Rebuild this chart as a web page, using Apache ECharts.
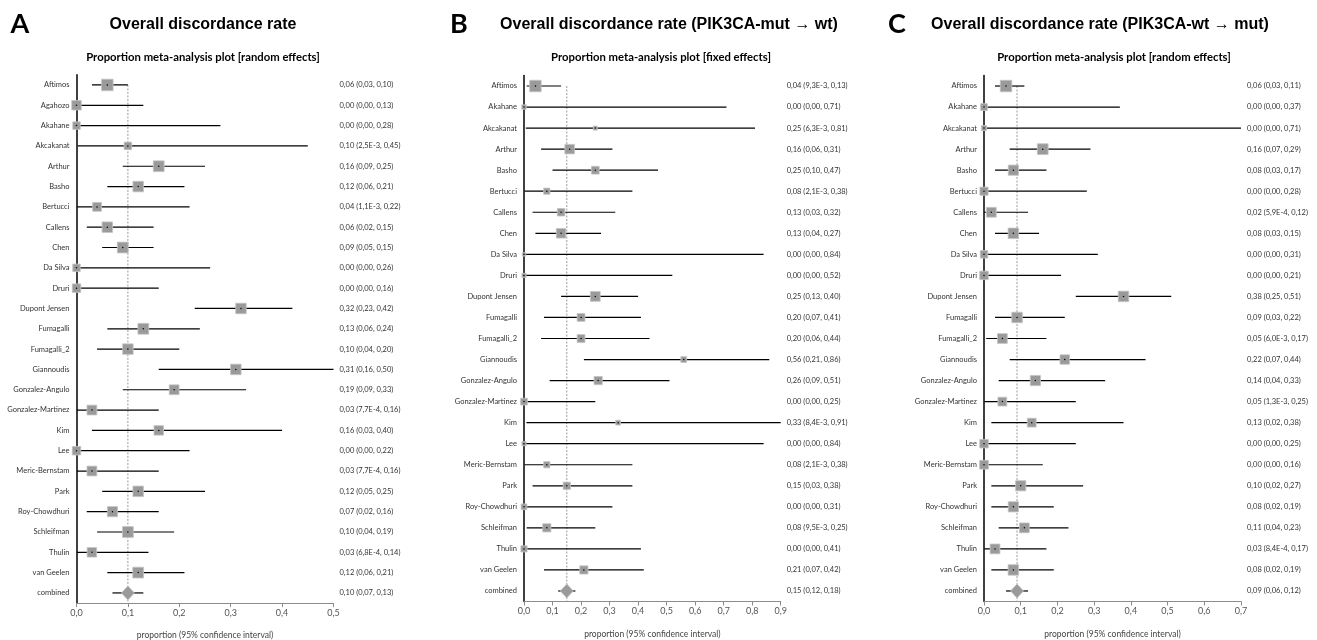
<!DOCTYPE html>
<html>
<head>
<meta charset="utf-8">
<script src="https://cdn.jsdelivr.net/npm/echarts@6/dist/echarts.min.js"></script>
<style>
html,body{margin:0;padding:0;background:#fff;}
#chart{width:1317px;height:640px;}
</style>
</head>
<body>
<div id="chart"></div>
<script>
// ---------- DATA ----------
const studiesA = ['Aftimos','Agahozo','Akahane','Akcakanat','Arthur','Basho','Bertucci','Callens','Chen','Da Silva','Druri','Dupont Jensen','Fumagalli','Fumagalli_2','Giannoudis','Gonzalez-Angulo','Gonzalez-Martinez','Kim','Lee','Meric-Bernstam','Park','Roy-Chowdhuri','Schleifman','Thulin','van Geelen','combined'];
const estA = [0.06,0,0,0.10,0.16,0.12,0.04,0.06,0.09,0,0,0.32,0.13,0.10,0.31,0.19,0.03,0.16,0,0.03,0.12,0.07,0.10,0.03,0.12,0.10];
const loA  = [0.03,0,0,0.0025,0.09,0.06,0.0011,0.02,0.05,0,0,0.23,0.06,0.04,0.16,0.09,0.00077,0.03,0,0.00077,0.05,0.02,0.04,0.00068,0.06,0.07];
const hiA  = [0.10,0.13,0.28,0.45,0.25,0.21,0.22,0.15,0.15,0.26,0.16,0.42,0.24,0.20,0.50,0.33,0.16,0.40,0.22,0.16,0.25,0.16,0.19,0.14,0.21,0.13];
const weightA = [11,9,7,7,10.3,10,8.3,10,10.3,7,8,10,10.3,10,10,9.3,9.3,9,8,9.3,10,9.7,10.3,9,10.3];

const studiesB = ['Aftimos','Akahane','Akcakanat','Arthur','Basho','Bertucci','Callens','Chen','Da Silva','Druri','Dupont Jensen','Fumagalli','Fumagalli_2','Giannoudis','Gonzalez-Angulo','Gonzalez-Martinez','Kim','Lee','Meric-Bernstam','Park','Roy-Chowdhuri','Schleifman','Thulin','van Geelen','combined'];
const estB = [0.04,0,0.25,0.16,0.25,0.08,0.13,0.13,0,0,0.25,0.20,0.20,0.56,0.26,0,0.33,0,0.08,0.15,0,0.08,0,0.21,0.15];
const loB  = [0.0093,0,0.0063,0.06,0.10,0.0021,0.03,0.04,0,0,0.13,0.07,0.06,0.21,0.09,0,0.0084,0,0.0021,0.03,0,0.0095,0,0.07,0.12];
const hiB  = [0.13,0.71,0.81,0.31,0.47,0.38,0.32,0.27,0.84,0.52,0.40,0.41,0.44,0.86,0.51,0.25,0.91,0.84,0.38,0.38,0.31,0.25,0.41,0.42,0.18];
const weightB = [11,4,3.5,9,7.3,5.7,7,9,3,3.7,9.3,7.3,7.3,5.3,7.7,6.3,4.3,3.7,5.7,6.7,5.3,7.7,5.7,7.7];

const studiesC = ['Aftimos','Akahane','Akcakanat','Arthur','Basho','Bertucci','Callens','Chen','Da Silva','Druri','Dupont Jensen','Fumagalli','Fumagalli_2','Giannoudis','Gonzalez-Angulo','Gonzalez-Martinez','Kim','Lee','Meric-Bernstam','Park','Roy-Chowdhuri','Schleifman','Thulin','van Geelen','combined'];
const estC = [0.06,0,0,0.16,0.08,0,0.02,0.08,0,0,0.38,0.09,0.05,0.22,0.14,0.05,0.13,0,0,0.10,0.08,0.11,0.03,0.08,0.09];
const loC  = [0.03,0,0,0.07,0.03,0,0.00059,0.03,0,0,0.25,0.03,0.006,0.07,0.04,0.0013,0.02,0,0,0.02,0.02,0.04,0.00084,0.02,0.06];
const hiC  = [0.11,0.37,0.71,0.29,0.17,0.28,0.12,0.15,0.31,0.21,0.51,0.22,0.17,0.44,0.33,0.25,0.38,0.25,0.16,0.27,0.19,0.23,0.17,0.19,0.12];
const weightC = [11,6.3,4.7,10.3,9.7,7.7,9.3,10,7,8,10,10,9.3,9,9.7,8.3,8.3,8,8.3,9.7,9.7,9.3,9.3,10];

const axisMax = [0.5, 0.9, 0.7];
const panelLetters = ['A','B','C'];
const panelTitles = ['Overall discordance rate','Overall discordance rate (PIK3CA-mut \u2192 wt)','Overall discordance rate (PIK3CA-wt \u2192 mut)'];
const panelSubtitles = ['Proportion meta-analysis plot [random effects]','Proportion meta-analysis plot [fixed effects]','Proportion meta-analysis plot [random effects]'];
const xAxisName = 'proportion (95% confidence interval)';

// ---------- LAYOUT ----------
const grids = [
  {left:76.5, top:74.8, width:257, height:528.3},
  {left:524, top:75.5, width:256.7, height:526},
  {left:984, top:75.5, width:257, height:526}
];
const letterPos = [[20,24],[459,24],[897,24]];
const titlePos = [[203,25],[669,25],[1100,25]];
const subPos = [[203,57],[661,57],[1114,57]];

function fmt(v){
  if (v === 0) return '0,00';
  if (v < 0.01) {
    const s = v.toExponential(1);
    const parts = s.split('e');
    return parts[0].replace('.', ',') + 'E' + parts[1];
  }
  return v.toFixed(2).replace('.', ',');
}

const panels = [
  {studies:studiesA, est:estA, lo:loA, hi:hiA, w:weightA},
  {studies:studiesB, est:estB, lo:loB, hi:hiB, w:weightB},
  {studies:studiesC, est:estC, lo:loC, hi:hiC, w:weightC}
];

const FONT = 'Lato';
const grid = [], xAxis = [], yAxis = [], series = [], graphic = [];

panels.forEach((p, i) => {
  const n = p.studies.length;
  grid.push(Object.assign({containLabel:false, outerBoundsMode:'none'}, grids[i]));
  xAxis.push({
    type:'value', gridIndex:i, min:0, max:axisMax[i], interval:0.1,
    splitLine:{show:false},
    axisLine:{show:true, lineStyle:{color:'#8c8c8c', width:1}},
    axisTick:{show:true, length:4, lineStyle:{color:'#8c8c8c'}},
    axisLabel:{fontFamily:FONT, fontSize:9, color:'#555', margin:5,
      formatter: v => v.toFixed(1).replace('.', ',')},
    name:xAxisName, nameLocation:'middle', nameGap:28,
    nameTextStyle:{fontFamily:FONT, fontSize:8.5, color:'#444'}
  });
  yAxis.push({
    type:'category', gridIndex:i, data:p.studies, inverse:true,
    axisLine:{show:true, onZero:false, lineStyle:{color:'#000', width:1.5}},
    axisTick:{show:false},
    axisLabel:{fontFamily:FONT, fontSize:7.5, color:'#333', margin:7}
  });
  const rightLabels = p.studies.map((s, k) => fmt(p.est[k]) + ' (' + fmt(p.lo[k]) + ', ' + fmt(p.hi[k]) + ')');
  yAxis.push({
    type:'category', gridIndex:i, data:rightLabels, inverse:true, position:'right',
    axisLine:{show:false}, axisTick:{show:false},
    axisLabel:{fontFamily:FONT, fontSize:7.5, color:'#333', margin:6}
  });
  const yi = i*2;

  series.push({
    type:'custom', xAxisIndex:i, yAxisIndex:yi, z:1, silent:true,
    data:[[p.est[n-1], 0]],
    encode:{x:0, y:1},
    renderItem:(params, api) => {
      const top = api.coord([api.value(0), api.value(1)]);
      const cs = params.coordSys;
      return {type:'line', shape:{x1:top[0], y1:top[1], x2:top[0], y2:cs.y+cs.height},
        style:{stroke:'#9a9a9a', lineWidth:1, lineDash:[2,1.5]}};
    }
  });

  series.push({
    type:'custom', xAxisIndex:i, yAxisIndex:yi, z:2, silent:true,
    data:p.studies.map((s,k) => [p.lo[k], p.hi[k], k]),
    encode:{x:[0,1], y:2},
    renderItem:(params, api) => {
      const cs = params.coordSys;
      const a = api.coord([api.value(0), api.value(2)]);
      const b = api.coord([api.value(1), api.value(2)]);
      const x2 = Math.min(b[0], cs.x + cs.width);
      return {type:'line', shape:{x1:a[0], y1:a[1], x2:x2, y2:b[1]},
        style:{stroke:'#000', lineWidth:1.2}};
    }
  });

  series.push({
    type:'scatter', xAxisIndex:i, yAxisIndex:yi, z:3, silent:true,
    symbol:'rect',
    data:p.w.map((w,k) => ({value:[p.est[k], k], symbolSize:w + 0.5})),
    itemStyle:{color:'#9a9a9a', borderColor:'#c4c4c4', borderWidth:0.8, opacity:1}
  });
  series.push({
    type:'scatter', xAxisIndex:i, yAxisIndex:yi, z:3, silent:true,
    symbol:'diamond', symbolSize:[13,14],
    data:[[p.est[n-1], n-1]],
    itemStyle:{color:'#9a9a9a', borderColor:'#c4c4c4', borderWidth:0.8, opacity:1}
  });
  series.push({
    type:'scatter', xAxisIndex:i, yAxisIndex:yi, z:4, silent:true,
    symbol:'circle', symbolSize:1.5,
    data:p.studies.slice(0, n-1).map((s,k) => [p.est[k], k]),
    itemStyle:{color:'#000', opacity:1}
  });

  graphic.push({type:'text', x:letterPos[i][0], y:letterPos[i][1],
    style:{text:panelLetters[i], fontFamily:FONT, fontWeight:'bold', fontSize:27, fill:'#000', textAlign:'center', textVerticalAlign:'middle'}});
  graphic.push({type:'text', x:titlePos[i][0], y:titlePos[i][1],
    style:{text:panelTitles[i], fontFamily:'Liberation Sans', fontWeight:'bold', fontSize:16, fill:'#000', textAlign:'center', textVerticalAlign:'middle'}});
  graphic.push({type:'text', x:subPos[i][0], y:subPos[i][1],
    style:{text:panelSubtitles[i], fontFamily:FONT, fontWeight:'bold', fontSize:11.3, fill:'#000', textAlign:'center', textVerticalAlign:'middle'}});
});

const chart = echarts.init(document.getElementById('chart'), null, {renderer:'canvas'});
chart.setOption({
  animation:false,
  backgroundColor:'#fff',
  grid, xAxis, yAxis, series, graphic
});
</script>
</body>
</html>
